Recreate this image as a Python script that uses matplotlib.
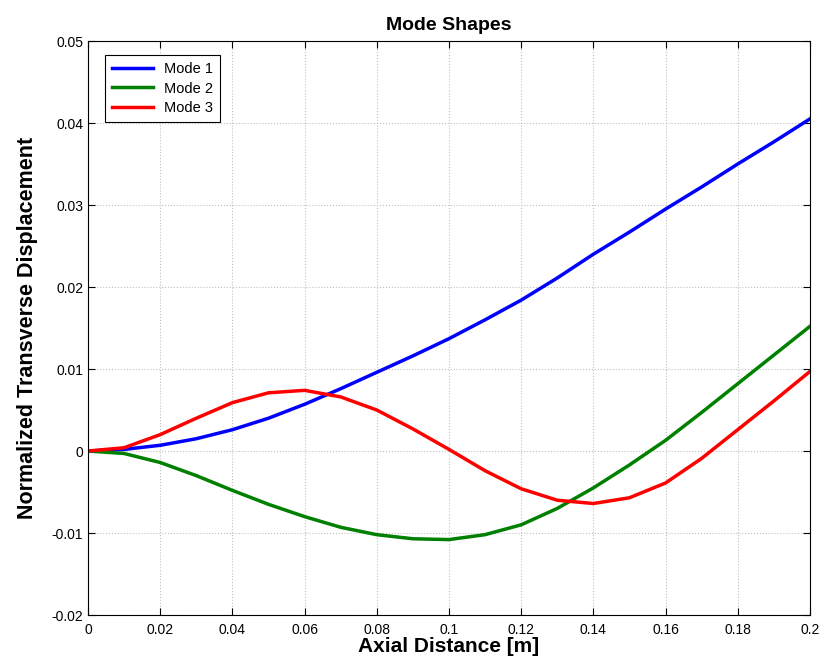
import matplotlib.pyplot as plt
import numpy as np

plt.rcParams['font.family'] = ['Liberation Sans', 'DejaVu Sans']

x = np.round(np.arange(0, 0.2001, 0.01), 3)
mode1 = [0, 0.0002, 0.0007, 0.0015, 0.0026, 0.0040, 0.0057, 0.0076, 0.0096, 0.0116,
         0.0137, 0.0160, 0.0184, 0.0211, 0.0240, 0.0267, 0.0295, 0.0322, 0.0350, 0.0377, 0.0405]
mode2 = [0, -0.0003, -0.0014, -0.0030, -0.0048, -0.0065, -0.0080, -0.0093, -0.0102, -0.0107,
         -0.0108, -0.0102, -0.0090, -0.0070, -0.0045, -0.0017, 0.0013, 0.0047, 0.0082, 0.0117, 0.0152]
mode3 = [0, 0.0004, 0.0020, 0.0040, 0.0059, 0.0071, 0.0074, 0.0066, 0.0050, 0.0027,
         0.0002, -0.0024, -0.0046, -0.0060, -0.0064, -0.0057, -0.0039, -0.0009, 0.0026, 0.0061, 0.0097]

xticks = np.round(np.arange(0, 0.2001, 0.02), 2)
xticklabels = ['0', '0.02', '0.04', '0.06', '0.08', '0.1', '0.12', '0.14', '0.16', '0.18', '0.2']
yticks = np.round(np.arange(-0.02, 0.0501, 0.01), 2)
yticklabels = ['-0.02', '-0.01', '0', '0.01', '0.02', '0.03', '0.04', '0.05']

fig = plt.figure(figsize=(8.25, 6.68), dpi=100)
ax = fig.add_axes([0.1067, 0.0793, 0.875, 0.8593])

ax.plot(x, mode1, color='#0000ff', lw=2.5, label='Mode 1')
ax.plot(x, mode2, color='#008000', lw=2.5, label='Mode 2')
ax.plot(x, mode3, color='#ff0000', lw=2.5, label='Mode 3')

ax.set_xlim(0, 0.2)
ax.set_ylim(-0.02, 0.05)
ax.set_xticks(xticks)
ax.set_xticklabels(xticklabels)
ax.set_yticks(yticks)
ax.set_yticklabels(yticklabels)
ax.tick_params(direction='in', top=True, right=True, labelsize=10, length=5, width=0.8)
ax.tick_params(axis='x', pad=6)
ax.grid(True, color='#c0c0c0', linestyle=':', linewidth=0.8)
for s in ax.spines.values():
    s.set_linewidth(0.8)

ax.set_title('Mode Shapes', fontsize=14, fontweight='bold', pad=8)
ax.set_xlabel('Axial Distance [m]', fontsize=15, fontweight='bold', labelpad=0)
ax.set_ylabel('Normalized Transverse Displacement', fontsize=15.5, fontweight='bold', labelpad=10)

leg = ax.legend(loc='upper left', fontsize=10.5, handlelength=2.8, borderpad=0.45,
                labelspacing=0.4, fancybox=False, framealpha=1, edgecolor='black',
                bbox_to_anchor=(0.014, 0.988))
leg.get_frame().set_linewidth(0.8)

fig.savefig('out.png', dpi=100)
